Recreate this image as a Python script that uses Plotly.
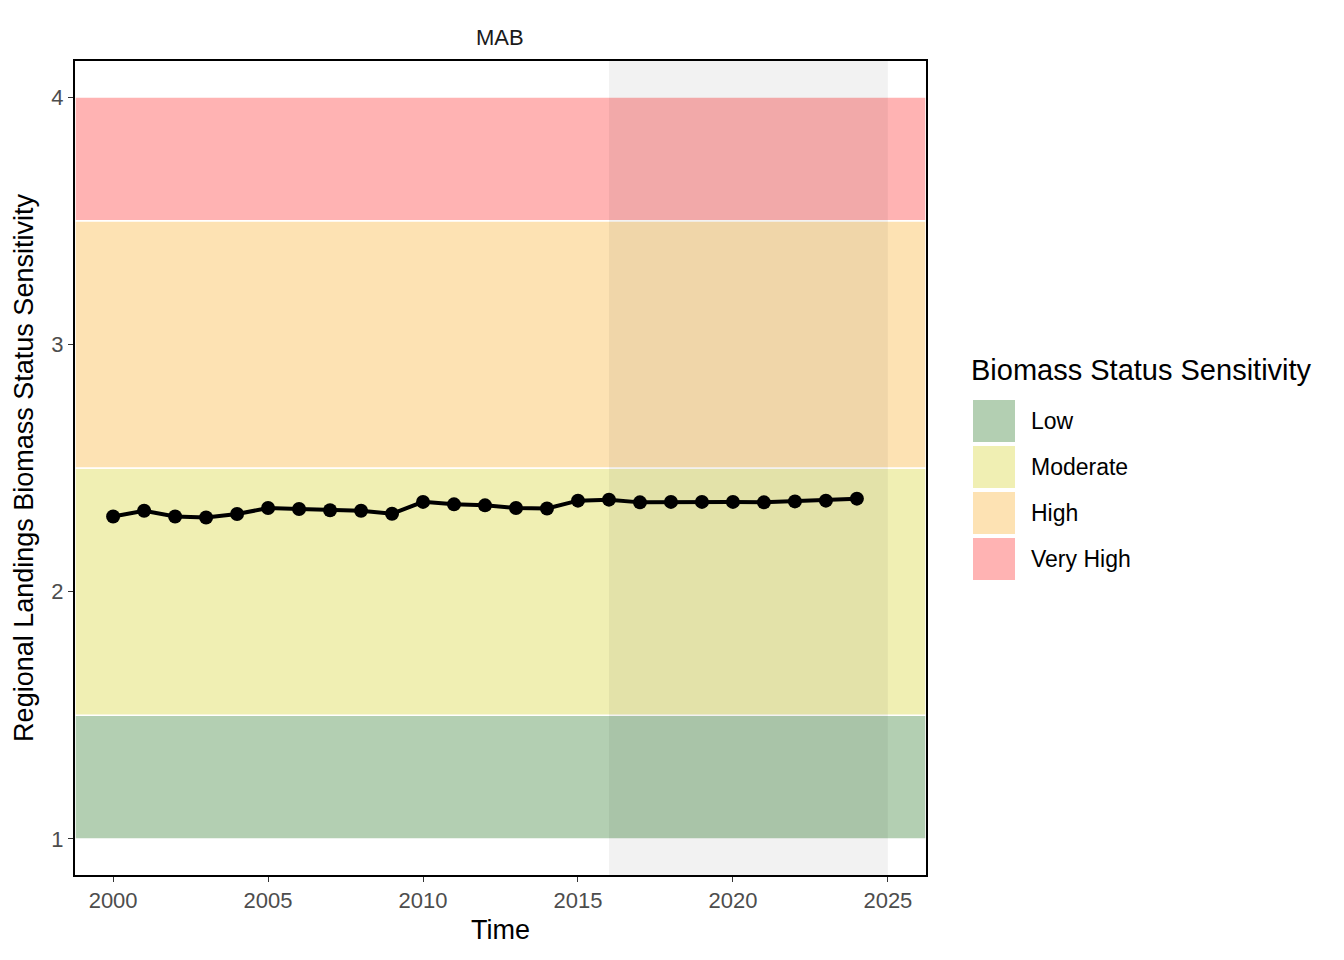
import plotly.graph_objects as go

# ---- data ----
years = list(range(2000, 2025))
sensitivity = [2.304, 2.327, 2.304, 2.300, 2.314, 2.338, 2.334, 2.329, 2.327, 2.315,
               2.363, 2.353, 2.349, 2.338, 2.336, 2.368, 2.372, 2.361, 2.363, 2.363,
               2.363, 2.361, 2.365, 2.368, 2.376]
categories = ["Low", "Moderate", "High", "Very High"]
band_low = [1.0, 1.5, 2.5, 3.5]
band_high = [1.5, 2.5, 3.5, 4.0]
band_colors = ["#b3cfb2", "#f0efb3", "#fde2b3", "#ffb3b3"]
shade_start, shade_end = 2016, 2025
x_ticks = [2000, 2005, 2010, 2015, 2020, 2025]
y_ticks = [1, 2, 3, 4]

W, H = 1344, 960
OFF = 8  # page body margin
L, R, T, B = 75, 926, 61, 875
FONT = "Liberation Sans"

def px(x):
    return (x - L) / (R - L)

def py(y):
    return (B - y) / (B - T)

fig = go.Figure()

shapes = []
for lo, hi, col in zip(band_low, band_high, band_colors):
    shapes.append(dict(type="rect", xref="paper", yref="y", x0=0, x1=1, y0=lo, y1=hi,
                       fillcolor=col, line=dict(color="white", width=1.5), layer="below"))
shapes.append(dict(type="rect", xref="x", yref="paper", x0=shade_start, x1=shade_end, y0=0, y1=1,
                   fillcolor="rgba(0,0,0,0.05)", line=dict(width=0), layer="below"))

fig.add_trace(go.Scatter(x=years, y=sensitivity, mode="lines+markers",
                         line=dict(color="black", width=4),
                         marker=dict(color="black", size=14),
                         showlegend=False, hoverinfo="x+y"))

annotations = []
annotations.append(dict(text="MAB", xref="paper", yref="paper", x=px(500), y=py(38),
                        showarrow=False, font=dict(family=FONT, size=22, color="#1a1a1a"),
                        xanchor="center", yanchor="middle"))
# legend (manual)
annotations.append(dict(text="Biomass Status Sensitivity", xref="paper", yref="paper",
                        x=px(969), y=py(370), showarrow=False, xanchor="left", yanchor="middle",
                        font=dict(family=FONT, size=29, color="black")))
sw_top = 400
for i, (cat, col) in enumerate(zip(categories, band_colors)):
    y0 = sw_top + i * 46
    shapes.append(dict(type="rect", xref="paper", yref="paper", x0=px(973), x1=px(1015),
                       y0=py(y0 + 42), y1=py(y0), fillcolor=col, line=dict(width=0), layer="above"))
    annotations.append(dict(text=cat, xref="paper", yref="paper", x=px(1029), y=py(y0 + 21),
                            showarrow=False, xanchor="left", yanchor="middle",
                            font=dict(family=FONT, size=23, color="black")))

fig.update_layout(
    width=W, height=H,
    margin=dict(l=L - OFF, r=W - R + OFF, t=T - OFF, b=H - B + OFF),
    paper_bgcolor="white", plot_bgcolor="white",
    shapes=shapes, annotations=annotations,
    font=dict(family=FONT),
    showlegend=False,
)
fig.update_xaxes(range=[1998.77, 2026.23], tickvals=x_ticks, ticks="outside", ticklen=5,
                 tickwidth=1.2, tickcolor="#333333", showgrid=False, zeroline=False,
                 showline=True, linecolor="black", linewidth=2, mirror=True,
                 tickfont=dict(family=FONT, size=22, color="#4d4d4d"),
                 title=dict(text="Time", font=dict(family=FONT, size=27, color="black"), standoff=8))
fig.update_yaxes(range=[0.854, 4.146], tickvals=y_ticks, ticks="outside", ticklen=5,
                 tickwidth=1.2, tickcolor="#333333", showgrid=False, zeroline=False,
                 showline=True, linecolor="black", linewidth=2, mirror=True,
                 tickfont=dict(family=FONT, size=22, color="#4d4d4d"),
                 title=dict(text="Regional Landings Biomass Status Sensitivity",
                            font=dict(family=FONT, size=27, color="black"), standoff=10))

fig.write_html("out.html")
